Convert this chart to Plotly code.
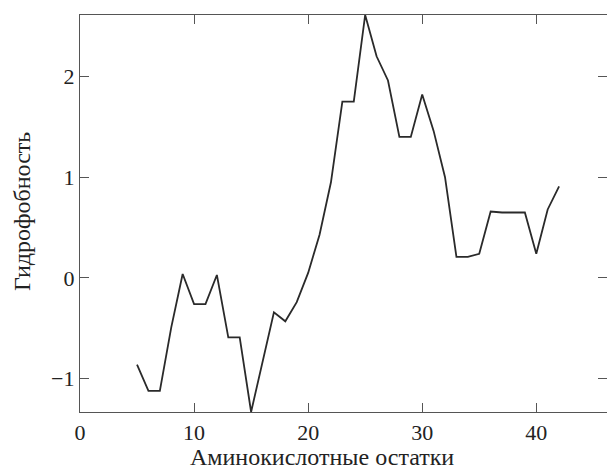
import plotly.graph_objects as go

residues = list(range(5, 43))
hydrophobicity = [-0.86, -1.12, -1.12, -0.49, 0.04, -0.26, -0.26, 0.03, -0.59, -0.59,
                  -1.33, -0.84, -0.34, -0.43, -0.24, 0.05, 0.43, 0.95, 1.75, 1.75,
                  2.61, 2.20, 1.96, 1.40, 1.40, 1.82, 1.46, 1.00, 0.21, 0.21,
                  0.24, 0.66, 0.65, 0.65, 0.65, 0.24, 0.68, 0.91]
x_ticks = [0, 10, 20, 30, 40]
y_ticks = [-1, 0, 1, 2]
x_title = "Аминокислотные остатки"
y_title = "Гидрофобность"

W, H = 607, 469
L, R, T, B = 80, 0, 15, 57
PW, PH = W - L - R, H - T - B

fig = go.Figure(go.Scatter(x=residues, y=hydrophobicity, mode="lines",
                           line=dict(color="#2a2a2a", width=1.8)))

font = dict(family="Liberation Serif, serif", size=24, color="#222")
tfont = dict(family="Liberation Serif, serif", size=22, color="#222")
ax = dict(showline=True, linecolor="#555", linewidth=1.4, mirror="ticks",
          ticks="inside", ticklen=9, tickwidth=1.2, tickcolor="#555",
          showgrid=False, zeroline=False, tickfont=tfont, automargin=False)

fig.update_layout(
    width=W, height=H,
    margin=dict(l=L, r=R, t=T, b=B, autoexpand=False),
    paper_bgcolor="white", plot_bgcolor="white",
    showlegend=False,
    font=font,
    xaxis=dict(ax, range=[0, 46.2], tickvals=x_ticks),
    yaxis=dict(ax, range=[-1.33, 2.61], tickvals=y_ticks),
    annotations=[
        dict(text=x_title, xref="paper", yref="paper", showarrow=False,
             x=(322 - L) / PW, y=((H - B) - 457.5) / PH,
             xanchor="center", yanchor="middle", font=font, borderpad=0),
        dict(text=y_title, xref="paper", yref="paper", showarrow=False,
             x=(22 - L) / PW, y=((H - B) - 212) / PH, textangle=-90,
             xanchor="center", yanchor="middle", font=font),
    ],
)
fig.write_html("out.html", config={"displayModeBar": False},
               post_script="document.body.style.margin='0';document.body.style.overflow='hidden';")
